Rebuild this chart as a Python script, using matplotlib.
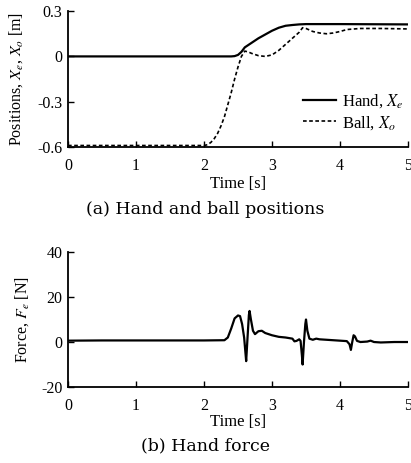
import matplotlib
matplotlib.use("Agg")
import matplotlib.pyplot as plt
import numpy as np

plt.rcParams['font.family'] = ['Liberation Serif', 'DejaVu Serif']
plt.rcParams['mathtext.fontset'] = 'stix'
plt.rcParams['axes.unicode_minus'] = False

# Panel (a): positions [m]
hand_t = [0.0, 2.40, 2.45, 2.50, 2.55, 2.60, 2.70, 2.80, 2.90, 3.00, 3.10, 3.20, 3.30, 3.40, 3.50, 4.00, 4.50, 5.00]
hand_x = [0.0, 0.0, 0.002, 0.01, 0.03, 0.06, 0.09, 0.12, 0.145, 0.17, 0.19, 0.203, 0.208, 0.212, 0.214, 0.214, 0.213, 0.212]
ball_t = [0.0, 2.00, 2.05, 2.10, 2.15, 2.20, 2.25, 2.30, 2.35, 2.40, 2.45, 2.50, 2.55, 2.60, 2.65, 2.70, 2.80, 2.90, 3.00, 3.10, 3.20, 3.30, 3.40, 3.45, 3.50, 3.60, 3.70, 3.80, 3.90, 4.00, 4.10, 4.30, 4.60, 5.00]
ball_x = [-0.59, -0.59, -0.585, -0.57, -0.545, -0.51, -0.46, -0.40, -0.32, -0.24, -0.15, -0.07, 0.0, 0.035, 0.03, 0.02, 0.005, 0.0, 0.01, 0.04, 0.08, 0.12, 0.16, 0.19, 0.185, 0.165, 0.155, 0.15, 0.155, 0.165, 0.178, 0.185, 0.185, 0.182]

# Panel (b): hand force [N]
force_t = [0.0, 0.5, 1.0, 1.5, 2.0, 2.30, 2.35, 2.40, 2.45, 2.50, 2.53, 2.56, 2.59, 2.61, 2.62, 2.64, 2.66, 2.67, 2.69, 2.72, 2.75, 2.80, 2.85, 2.90, 3.00, 3.10, 3.20, 3.30, 3.33, 3.36, 3.40, 3.42, 3.44, 3.45, 3.47, 3.49, 3.50, 3.52, 3.55, 3.60, 3.65, 3.70, 3.80, 3.90, 4.00, 4.10, 4.14, 4.16, 4.18, 4.20, 4.22, 4.25, 4.30, 4.40, 4.45, 4.50, 4.60, 4.80, 5.00]
force_f = [0.6, 0.7, 0.7, 0.7, 0.7, 0.8, 2.0, 6.0, 10.5, 11.8, 11.5, 8.0, 2.0, -5.0, -8.5, 2.0, 12.0, 13.8, 10.0, 5.0, 3.5, 4.8, 5.0, 4.0, 3.0, 2.3, 2.0, 1.5, 0.3, 0.5, 1.2, 0.5, -6.0, -10.0, 0.0, 8.0, 10.0, 5.0, 1.5, 1.0, 1.5, 1.2, 1.0, 0.8, 0.6, 0.4, -1.0, -3.5, 0.0, 3.0, 2.5, 0.5, 0.0, 0.2, 0.6, 0.0, -0.2, 0.0, 0.0]

x_ticks = [0, 1, 2, 3, 4, 5]
pos_ticks = [0.3, 0.0, -0.3, -0.6]
pos_ticklabels = ['0.3', '0', '-0.3', '-0.6']
force_ticks = [40, 20, 0, -20]

fig = plt.figure(figsize=(4.11, 4.63), dpi=100)

ax1 = fig.add_axes([0.1655, 0.6825, 0.8272, 0.2935])
ax1.plot(hand_t, hand_x, color='black', lw=1.6, label='Hand, $X_e$')
ax1.plot(ball_t, ball_x, color='black', lw=1.2, ls=(0, (2.2, 1.5)), label='Ball, $X_o$')
ax1.set_xlim(0, 5)
ax1.set_ylim(-0.6, 0.3)
ax1.set_yticks(pos_ticks)
ax1.set_yticklabels(pos_ticklabels)
ax1.set_xticks(x_ticks)
ax1.set_xlabel('Time [s]', fontsize=12, labelpad=1)
ax1.set_ylabel('Positions, $X_e$, $X_o$ [m]', fontsize=11.5, labelpad=9)
leg = ax1.legend(loc='upper left', frameon=False, fontsize=12, handlelength=2.0,
                 bbox_to_anchor=(0.69, 0.40), borderaxespad=0, borderpad=0,
                 handletextpad=0.35, labelspacing=0.2)

ax2 = fig.add_axes([0.1655, 0.1641, 0.8272, 0.2916])
ax2.plot(force_t, force_f, color='black', lw=1.6)
ax2.set_xlim(0, 5)
ax2.set_ylim(-20, 40)
ax2.set_yticks(force_ticks)
ax2.set_xticks(x_ticks)
ax2.set_xlabel('Time [s]', fontsize=12, labelpad=0)
ax2.set_ylabel('Force, $F_e$ [N]', fontsize=11.5, labelpad=7)

for ax in (ax1, ax2):
    ax.spines['top'].set_visible(False)
    ax.spines['right'].set_visible(False)
    ax.spines['left'].set_linewidth(1.3)
    ax.spines['bottom'].set_linewidth(1.3)
    ax.tick_params(direction='in', length=4, width=1.0, labelsize=11.5)
    ax.tick_params(axis='x', pad=8)
    ax.tick_params(axis='y', pad=4)

fig.text(0.5, 0.548, '(a) Hand and ball positions', ha='center', va='center',
         fontsize=12.5, family=['DejaVu Serif'])
fig.text(0.5, 0.038, '(b) Hand force', ha='center', va='center',
         fontsize=12.5, family=['DejaVu Serif'])

fig.savefig('out.png', dpi=100)
